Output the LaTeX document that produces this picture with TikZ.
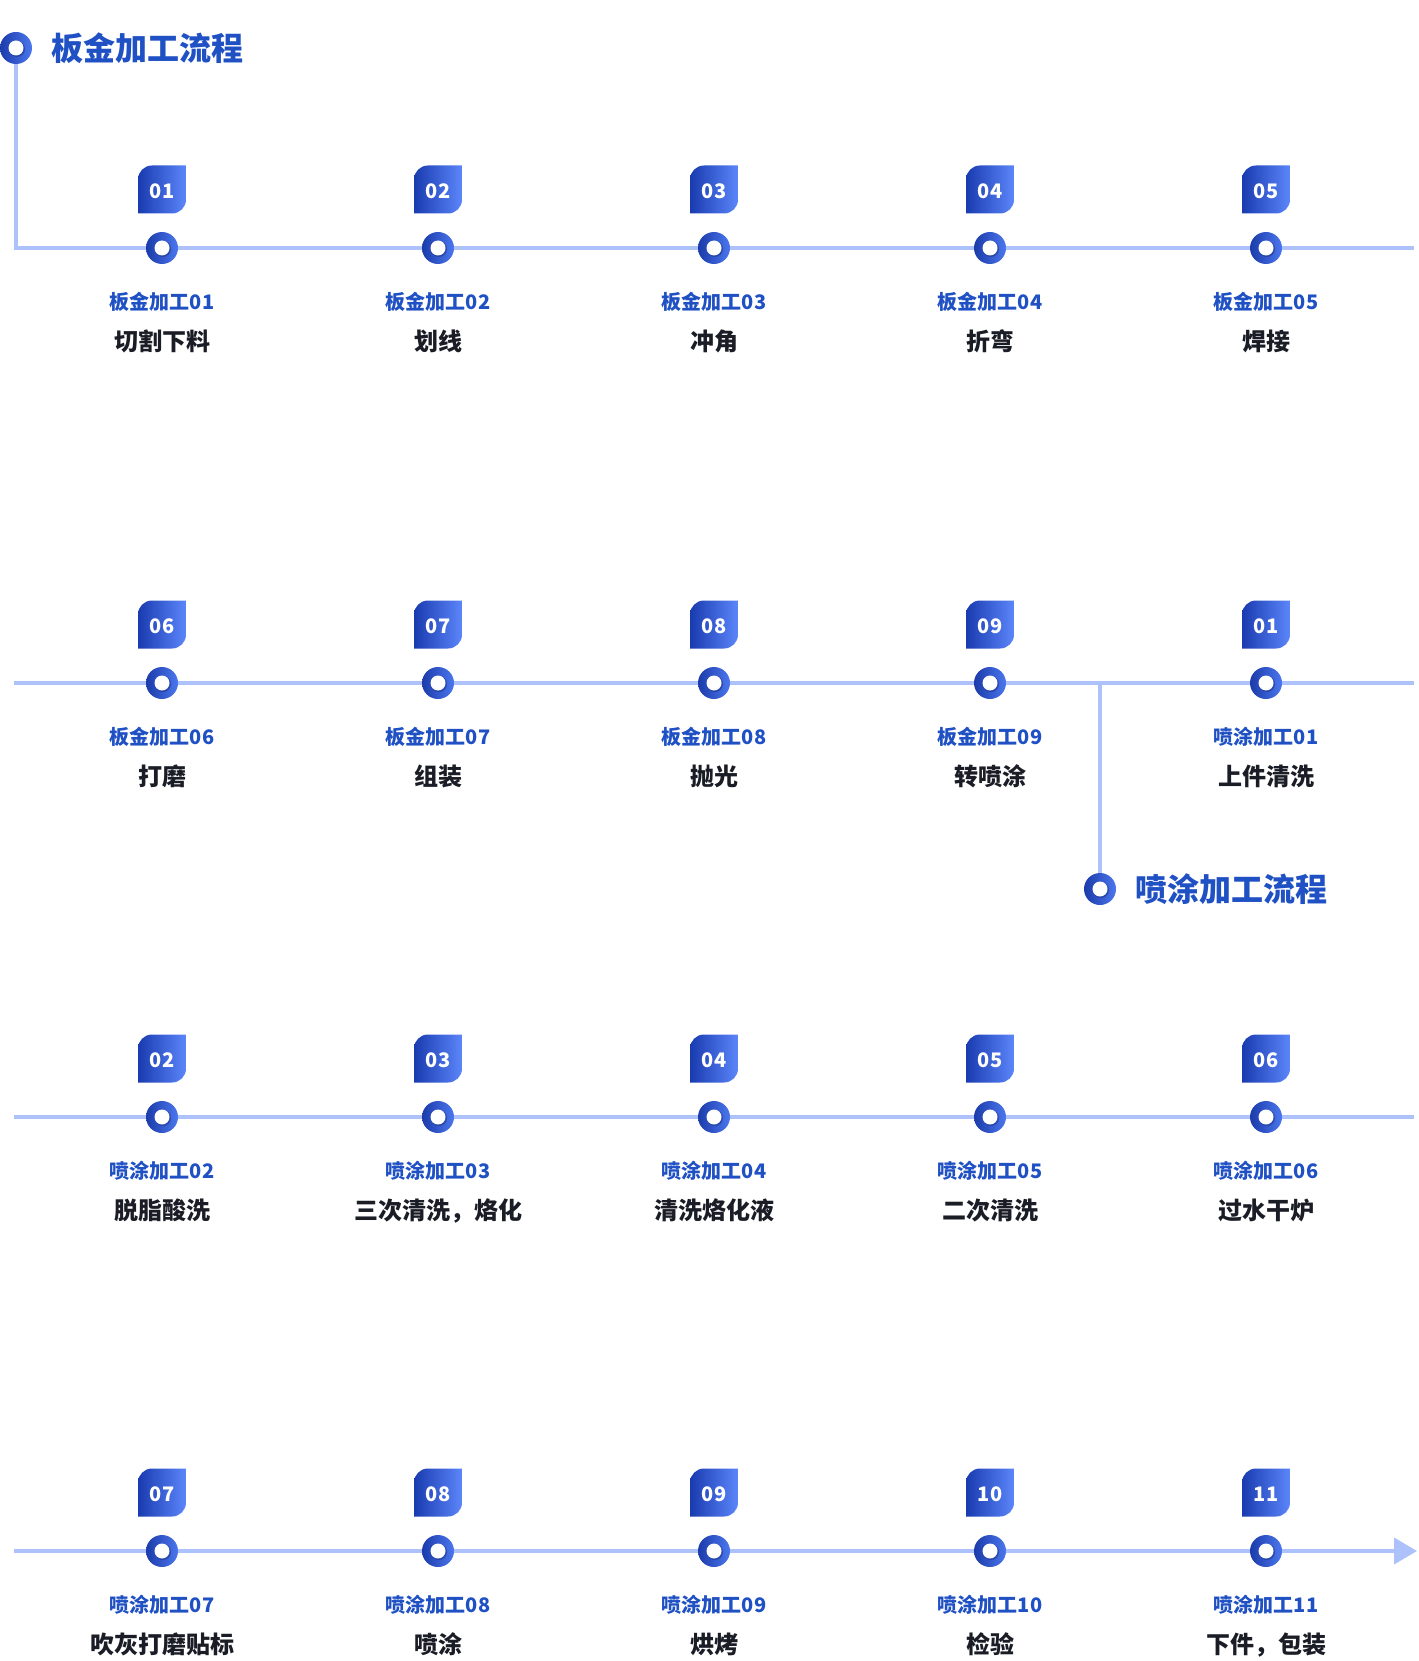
\documentclass[tikz,border=0pt]{standalone}
\usepackage{fontspec}
\setmainfont{Noto Sans CJK SC}
\usetikzlibrary{positioning,arrows.meta}
\definecolor{trackblue}{HTML}{ADC2FA}
\definecolor{ringdark}{HTML}{1B3BAA}
\definecolor{ringlight}{HTML}{4C77EE}
\definecolor{leafdark}{HTML}{1A3BB0}
\definecolor{leaflight}{HTML}{5B86FA}
\definecolor{tagblue}{HTML}{1F50C4}
\definecolor{inkdark}{HTML}{1B1D26}
\tikzset{
  track/.style={draw=trackblue, line width=4pt},
  ring/.style={circle, minimum size=32pt, inner sep=0pt, outer sep=0pt,
    left color=ringdark, right color=ringlight,
    path picture={\fill[ringdark!70!black, opacity=0.45] ([shift={(1,-1)}]path picture bounding box.center) circle (8);
      \fill[white] (path picture bounding box.center) circle (7.5);}},
  leaf/.style={rectangle, minimum size=48pt, inner sep=0pt, outer sep=0pt,
    text=white, text height=18pt, font=\bfseries\fontsize{20}{20}\selectfont,
    path picture={\shade[left color=leafdark, right color=leaflight]
      (path picture bounding box.south west) -- ++(0,34)
      arc[start angle=180, end angle=90, radius=14] -- ++(34,0) -- ++(0,-34)
      arc[start angle=0, end angle=-90, radius=14] -- cycle;}},
  tag/.style={inner sep=0pt, text=tagblue, font=\bfseries\fontsize{20}{20}\selectfont},
  stepname/.style={inner sep=0pt, text=inkdark, font=\bfseries\fontsize{24}{24}\selectfont},
  headline/.style={inner sep=0pt, text=tagblue, font=\bfseries\fontsize{32}{32}\selectfont}
}
\begin{document}
\begin{tikzpicture}[x=1pt, y=1pt]
\useasboundingbox[fill=white] (0,0) rectangle (1418,-1661);
\node[ring](h1) at (16,-48){};
\node[headline, right=19pt of h1](g1){板金加工流程};
\node[ring](h2) at (1100,-889){};
\node[headline, right=19pt of h2](g2){喷涂加工流程};
\foreach \n/\x/\y/\num/\tg/\txt in {
  1/162/248/01/板金加工01/切割下料, 2/438/248/02/板金加工02/划线,
  3/714/248/03/板金加工03/冲角, 4/990/248/04/板金加工04/折弯,
  5/1266/248/05/板金加工05/焊接,
  6/162/683/06/板金加工06/打磨, 7/438/683/07/板金加工07/组装,
  8/714/683/08/板金加工08/抛光, 9/990/683/09/板金加工09/转喷涂,
  10/1266/683/01/喷涂加工01/上件清洗,
  11/162/1117/02/喷涂加工02/脱脂酸洗, 12/438/1117/03/喷涂加工03/三次清洗，烙化,
  13/714/1117/04/喷涂加工04/清洗烙化液, 14/990/1117/05/喷涂加工05/二次清洗,
  15/1266/1117/06/喷涂加工06/过水干炉,
  16/162/1551/07/喷涂加工07/吹灰打磨贴标, 17/438/1551/08/喷涂加工08/喷涂,
  18/714/1551/09/喷涂加工09/烘烤, 19/990/1551/10/喷涂加工10/检验,
  20/1266/1551/11/喷涂加工11/下件，包装}{
\node[ring](p\n) at (\x,-\y){};
\node[leaf, above=18.5pt of p\n](b\n){\num};
\node[tag, below=28pt of p\n](t\n){\tg};
\node[stepname, below=18pt of t\n](s\n){\txt};
}
\coordinate(w2) at (14,-683);
\coordinate(w3) at (14,-1117);
\coordinate(w4) at (14,-1551);
\coordinate(e1) at (1414,-248);
\coordinate(e2) at (1414,-683);
\coordinate(e3) at (1414,-1117);
\coordinate(e4) at (1417,-1551);
\coordinate(k2) at (1100,-683);
\draw[track] (h1) |- (p1);
\draw[track] (k2) -- (h2);
\foreach \a/\b in {1/2,2/3,3/4,4/5,6/7,7/8,8/9,9/10,11/12,12/13,13/14,14/15,16/17,17/18,18/19,19/20}
  \draw[track] (p\a) -- (p\b);
\draw[track] (p5) -- (e1);
\draw[track] (w2) -- (p6);
\draw[track] (p10) -- (e2);
\draw[track] (w3) -- (p11);
\draw[track] (p15) -- (e3);
\draw[track] (w4) -- (p16);
\draw[track, -{Triangle[length=23pt, width=26pt]}] (p20) -- (e4);
\end{tikzpicture}
\end{document}
